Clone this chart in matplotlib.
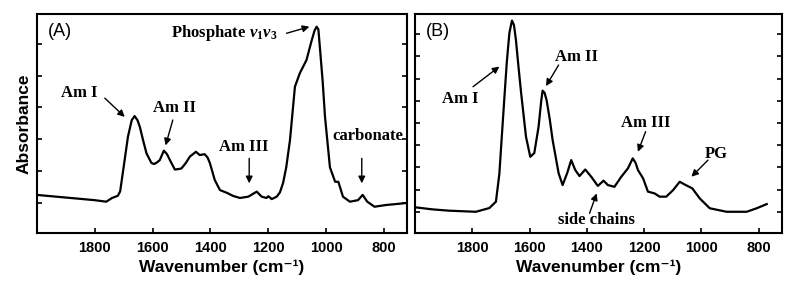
import numpy as np
import matplotlib
matplotlib.use('Agg')
import matplotlib.pyplot as plt

plt.rcParams['mathtext.fontset'] = 'custom'
plt.rcParams['mathtext.rm'] = 'Liberation Serif:bold'
plt.rcParams['mathtext.it'] = 'Liberation Serif:italic:bold'
plt.rcParams['mathtext.bf'] = 'Liberation Serif:bold'

# panel A: bone spectrum (wavenumber, absorbance in arbitrary units)
wn_a = [2000, 1900, 1800, 1760, 1740, 1720, 1712, 1700, 1685, 1672, 1662, 1652, 1644, 1632,
        1621, 1604, 1595, 1585, 1575, 1561, 1550, 1540, 1523, 1510, 1500, 1485, 1471, 1450,
        1437, 1420, 1410, 1402, 1385, 1367, 1344, 1321, 1298, 1269, 1240, 1223, 1206, 1200,
        1188, 1171, 1160, 1149, 1138, 1125, 1108, 1091, 1068, 1050, 1040, 1033, 1027, 1021,
        1012, 1004, 987, 969, 958, 942, 918, 890, 874, 858, 833, 793, 760, 723]
abs_a = [0.174, 0.162, 0.150, 0.143, 0.160, 0.170, 0.190, 0.300, 0.440, 0.515, 0.534, 0.515, 0.485, 0.420,
         0.364, 0.320, 0.315, 0.322, 0.333, 0.376, 0.360, 0.333, 0.290, 0.292, 0.295, 0.320, 0.349, 0.371,
         0.356, 0.360, 0.345, 0.320, 0.242, 0.196, 0.184, 0.169, 0.160, 0.166, 0.189, 0.166, 0.160, 0.168,
         0.155, 0.166, 0.185, 0.228, 0.300, 0.425, 0.668, 0.730, 0.790, 0.880, 0.925, 0.942, 0.930, 0.836,
         0.690, 0.530, 0.300, 0.234, 0.234, 0.166, 0.143, 0.150, 0.174, 0.143, 0.120, 0.128, 0.132, 0.137]

# panel B: cartilage / tissue spectrum
wn_b = [2004, 1940, 1882, 1788, 1741, 1718, 1706, 1698, 1689, 1680, 1671, 1662, 1655, 1648, 1640,
        1630, 1613, 1598, 1584, 1569, 1560, 1555, 1548, 1541, 1530, 1520, 1499, 1485, 1469, 1455,
        1441, 1426, 1406, 1385, 1362, 1342, 1327, 1304, 1280, 1257, 1240, 1230, 1222, 1204, 1187,
        1164, 1146, 1123, 1099, 1076, 1055, 1032, 1006, 971, 912, 842, 807, 772]
abs_b = [0.118, 0.108, 0.102, 0.097, 0.114, 0.143, 0.270, 0.430, 0.607, 0.780, 0.913, 0.970, 0.950, 0.880, 0.770,
         0.640, 0.440, 0.348, 0.365, 0.485, 0.600, 0.650, 0.640, 0.607, 0.520, 0.425, 0.273, 0.219, 0.274, 0.333,
         0.288, 0.260, 0.290, 0.257, 0.215, 0.239, 0.219, 0.211, 0.257, 0.295, 0.341, 0.320, 0.288, 0.250, 0.189,
         0.181, 0.166, 0.166, 0.196, 0.234, 0.219, 0.204, 0.158, 0.113, 0.097, 0.097, 0.113, 0.132]

xticks = [1800, 1600, 1400, 1200, 1000, 800]
yticks_a = [0.137, 0.283, 0.428, 0.574, 0.719, 0.865]
yticks_b = [0.096, 0.198, 0.300, 0.400, 0.502, 0.603, 0.705, 0.807, 0.909]

# annotations: (label, text xy, arrow tail, arrow head)
ann_a = [
    ('Am I', (1852, 0.64), (1765, 0.616), (1696, 0.530)),
    ('Am II', (1523, 0.571), (1530, 0.516), (1555, 0.400)),
    ('Am III', (1284, 0.393), (1266, 0.341), (1266, 0.227)),
    ('carbonate', (855, 0.443), (877, 0.341), (877, 0.227)),
    (r'Phosphate $v_1v_3$', (1354, 0.913), (1137, 0.912), (1058, 0.942)),
]
ann_b = [
    ('Am I', (1841, 0.612), (1798, 0.668), (1706, 0.760)),
    ('Am II', (1438, 0.802), (1499, 0.767), (1543, 0.671)),
    ('Am III', (1195, 0.501), (1195, 0.463), (1222, 0.371)),
    ('PG', (947, 0.361), (977, 0.333), (1035, 0.257)),
    ('side chains', (1368, 0.059), (1391, 0.090), (1366, 0.181)),
]

sans = ['Liberation Sans', 'DejaVu Sans']
serif = ['Liberation Serif', 'DejaVu Serif']

fig = plt.figure(figsize=(8, 2.92), dpi=100)
ax_a = fig.add_axes([0.046, 0.202, 0.463, 0.750])
ax_b = fig.add_axes([0.519, 0.202, 0.458, 0.750])

for ax, wn, ab, yt, ann, tag in [(ax_a, wn_a, abs_a, yticks_a, ann_a, '(A)'),
                                 (ax_b, wn_b, abs_b, yticks_b, ann_b, '(B)')]:
    ax.plot(wn, ab, color='black', lw=1.6)
    ax.set_xlim(2000, 720)
    ax.set_ylim(0, 1)
    ax.set_xticks(xticks)
    ax.set_yticks(yt)
    ax.tick_params(direction='in', length=3.5, width=1.2, top=False, right=True,
                   labelleft=False, pad=6)
    for lab in ax.get_xticklabels():
        lab.set_family(sans)
        lab.set_fontweight('bold')
        lab.set_fontsize(10.5)
    for s in ax.spines.values():
        s.set_linewidth(1.5)
    ax.set_xlabel('Wavenumber (cm⁻¹)', family=sans, fontweight='bold', fontsize=12.5, labelpad=3)
    ax.text(0.03, 0.92, tag, transform=ax.transAxes, family=sans, fontsize=13, va='center', ha='left')
    for label, txy, tail, head in ann:
        ax.text(txy[0], txy[1], label, family=serif, fontweight='bold', fontsize=12,
                ha='center', va='center')
        ax.annotate('', xy=head, xytext=tail,
                    arrowprops=dict(arrowstyle='-|>', color='black', lw=1.0,
                                    mutation_scale=10, shrinkA=0, shrinkB=0))

ax_a.set_ylabel('Absorbance', family=sans, fontweight='bold', fontsize=12.5, labelpad=4)

fig.savefig('out.png', dpi=100)
